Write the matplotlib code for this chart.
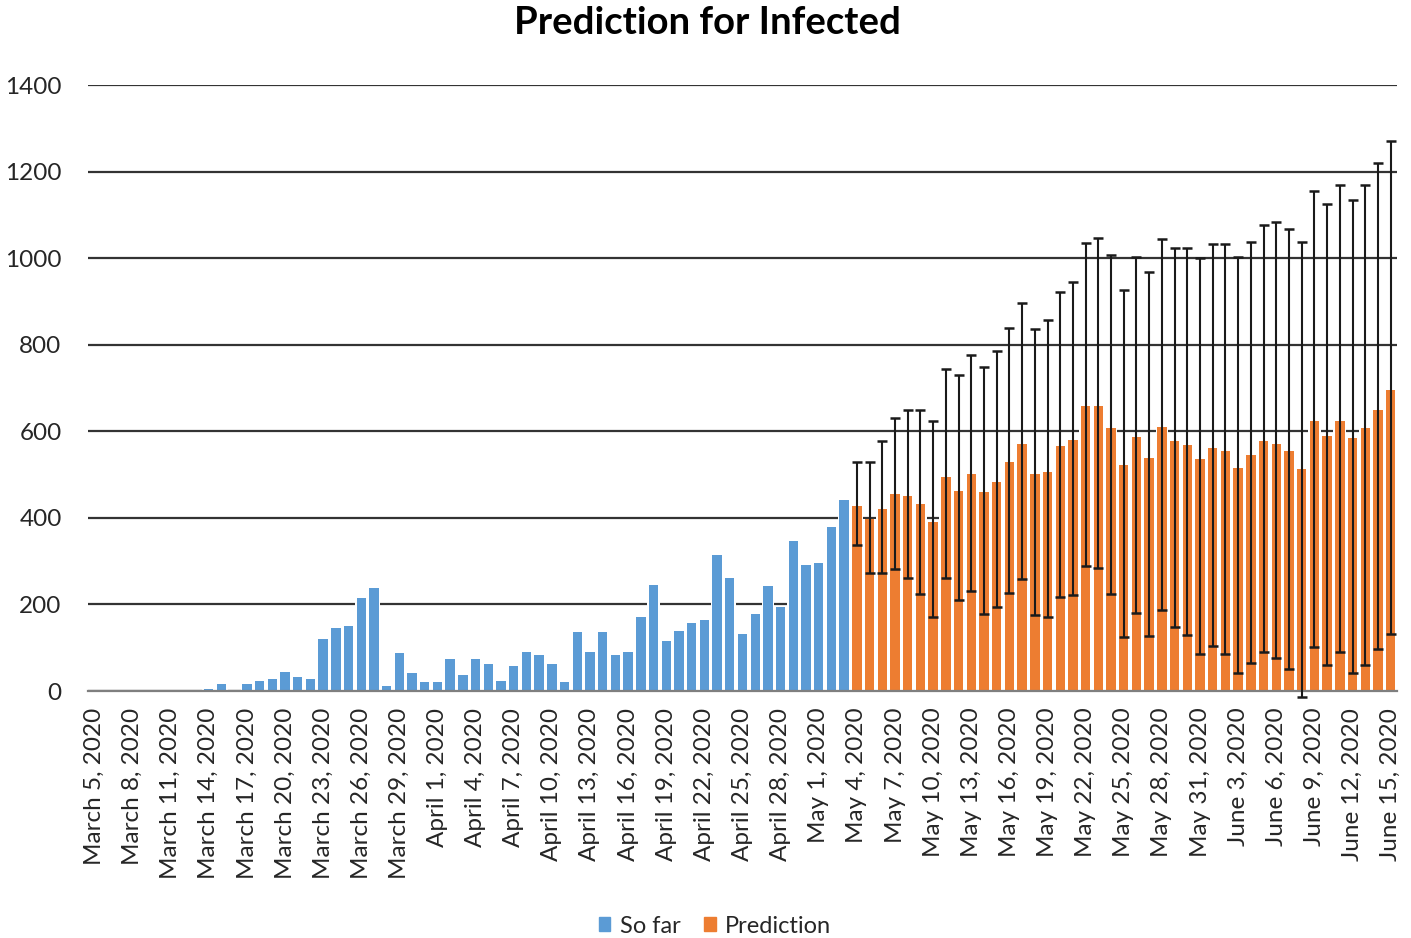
import matplotlib.pyplot as plt
import numpy as np
import pandas as pd
from matplotlib.patches import Patch

plt.rcParams["font.family"] = ["Lato", "DejaVu Sans"]

# categories: one bar per day
dates = pd.date_range("2020-03-05", "2020-06-15", freq="D")
day_labels = [f"{d.strftime('%B')} {d.day}, {d.year}" for d in dates]

# observed so far (March 5 .. May 3)
so_far = [
    0, 0, 0, 0, 0, 0, 0, 0, 0, 5,
    16, 0, 16, 24, 28, 45, 32, 28, 121, 146,
    150, 214, 239, 12, 87, 41, 21, 21, 74, 38,
    75, 62, 24, 58, 91, 84, 62, 20, 137, 91,
    137, 84, 91, 170, 246, 116, 138, 158, 163, 314,
    262, 132, 179, 242, 194, 346, 292, 296, 379, 442,
]

# prediction (May 4 .. June 15) with interval ends
prediction = [
    428, 397, 421, 455, 451, 433, 391, 495, 461, 501,
    459, 483, 529, 570, 501, 507, 566, 580, 659, 659,
    607, 521, 586, 539, 611, 578, 568, 537, 562, 554,
    515, 545, 577, 571, 555, 513, 623, 588, 623, 584,
    608, 650, 696,
]
pred_upper = [
    528, 528, 578, 631, 649, 649, 624, 745, 729, 776,
    748, 786, 839, 896, 836, 857, 922, 946, 1035, 1046,
    1008, 927, 1002, 969, 1044, 1024, 1024, 1000, 1032, 1032,
    1002, 1037, 1076, 1083, 1068, 1037, 1154, 1124, 1170, 1135,
    1170, 1219, 1271,
]
pred_lower = [
    338, 272, 272, 281, 260, 224, 170, 260, 211, 232,
    179, 195, 226, 258, 175, 172, 217, 221, 288, 284,
    225, 124, 181, 126, 187, 148, 130, 85, 103, 85,
    41, 64, 89, 76, 50, -15, 102, 61, 91, 41,
    61, 97, 131,
]

blue = "#5B9BD5"
orange = "#ED7D31"

fig = plt.figure(figsize=(14.11, 9.38), dpi=100)
ax = fig.add_axes([88 / 1411, 1 - 691 / 938, (1397 - 88) / 1411, (691 - 85) / 938])

x_all = np.arange(len(dates))
x_blue = x_all[: len(so_far)]
x_pred = x_all[len(so_far):]

# white backing hides the gridlines between neighbouring bars, like the Excel original
ax.bar(x_blue, so_far, width=1.0, color="white", zorder=1.5)
ax.bar(x_pred, prediction, width=1.0, color="white", zorder=1.5)
ax.bar(x_blue, so_far, width=0.74, color=blue, zorder=2)
ax.bar(x_pred, prediction, width=0.74, color=orange, zorder=2)

pred = np.array(prediction)
yerr = [pred - np.array(pred_lower), np.array(pred_upper) - pred]
eb = ax.errorbar(x_pred, pred, yerr=yerr, fmt="none", ecolor="#1a1a1a",
                 elinewidth=1.5, capsize=3.6, capthick=1.8, zorder=3)
for art in eb.lines[1] + eb.lines[2]:
    art.set_clip_on(False)

ax.set_xlim(-0.5, len(dates) - 0.5)
ax.set_ylim(0, 1400)
ax.set_yticks(np.arange(0, 1401, 200))
ax.yaxis.grid(True, color="#333333", linewidth=1.6, zorder=0)
ax.set_axisbelow(True)

tick_pos = x_all[::3]
ax.set_xticks(tick_pos)
ax.set_xticklabels([day_labels[i] for i in tick_pos], rotation=90, fontsize=17.5, color="#262626")
ax.tick_params(axis="x", length=0, pad=12)
ax.tick_params(axis="y", length=0, pad=19, labelsize=17.5, labelcolor="#262626")

for side in ("top", "right", "left"):
    ax.spines[side].set_visible(False)
ax.spines["bottom"].set_color("#7f7f7f")
ax.spines["bottom"].set_linewidth(1.6)

fig.suptitle("Prediction for Infected", x=707 / 1411, y=1 - 23 / 938, va="center",
             fontsize=27.5, fontweight="bold")

handles = [Patch(color=blue, label="So far"), Patch(color=orange, label="Prediction")]
fig.legend(handles=handles, loc="center", bbox_to_anchor=(715 / 1411, 1 - 926 / 938),
           ncol=2, frameon=False, fontsize=17, handlelength=0.5, handleheight=0.5,
           handletextpad=0.4, columnspacing=1.0, labelcolor="#262626")

fig.savefig("out.png", dpi=100)
